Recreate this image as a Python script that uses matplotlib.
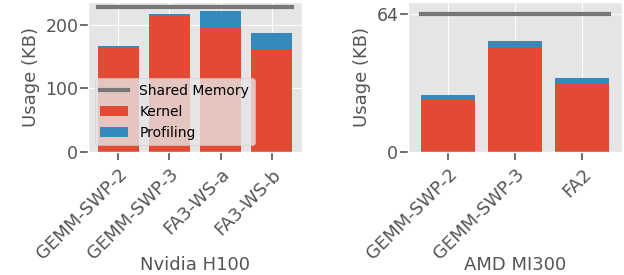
import matplotlib
matplotlib.use("Agg")
import matplotlib.pyplot as plt
import numpy as np

plt.style.use("ggplot")

# Nvidia H100
h100_kernels = ["GEMM-SWP-2", "GEMM-SWP-3", "FA3-WS-a", "FA3-WS-b"]
h100_kernel = [164, 214, 197, 162]
h100_profiling = [3, 3, 25, 25]
h100_smem = 228

# AMD MI300
mi300_kernels = ["GEMM-SWP-2", "GEMM-SWP-3", "FA2"]
mi300_kernel = [24.3, 48.7, 32.1]
mi300_profiling = [2.2, 2.5, 2.3]
mi300_smem = 64

fig = plt.figure(figsize=(6.24, 2.75), dpi=100)
ax1 = fig.add_axes([0.141, 0.447, 0.343, 0.546])
ax2 = fig.add_axes([0.654, 0.447, 0.343, 0.546])

def draw(ax, names, kernel, prof, smem, xlabel, yticks, ymax):
    x = np.arange(len(names))
    ax.plot([x[0] - 0.4, x[-1] + 0.4], [smem, smem], color="#777777", lw=3, label="Shared Memory")
    ax.bar(x, kernel, 0.8, color="#E24A33", label="Kernel")
    ax.bar(x, prof, 0.8, bottom=kernel, color="#348ABD", label="Profiling")
    ax.set_xticks(x)
    ax.set_xticklabels(names, rotation=45, ha="right", rotation_mode="anchor", fontsize=13)
    ax.set_yticks(yticks)
    ax.tick_params(axis="both", length=6, width=1.2, color="#555555")
    ax.tick_params(axis="y", labelsize=12.5, pad=1)
    ax.set_ylim(0, ymax)
    ax.set_xlim(x[0] - 0.59, x[-1] + 0.59)
    ax.set_ylabel("Usage (KB)", fontsize=13)
    ax.set_xlabel(xlabel, fontsize=13, labelpad=-5)

draw(ax1, h100_kernels, h100_kernel, h100_profiling, h100_smem, "Nvidia H100", [0, 100, 200], 236)
draw(ax2, mi300_kernels, mi300_kernel, mi300_profiling, mi300_smem, "AMD MI300", [0, 64], 69.5)
ax1.legend(loc="lower left", fontsize=10)

fig.savefig("out.png")
